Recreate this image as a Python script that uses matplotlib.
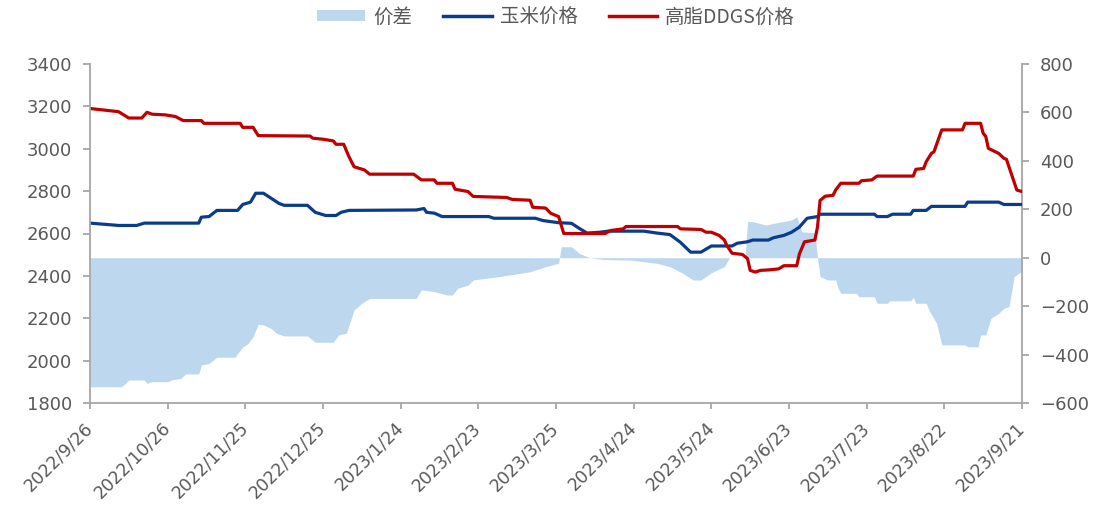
import matplotlib
matplotlib.use("Agg")
import matplotlib.pyplot as plt
import matplotlib.patches as mpatches
import matplotlib.lines as mlines
import pandas as pd

plt.rcParams['font.family'] = ['DejaVu Sans', 'Noto Sans CJK SC']

# ---------------- data ----------------
ddgs_dates = ["2022-09-26", "2022-10-07", "2022-10-11", "2022-10-16", "2022-10-18", "2022-10-20",
              "2022-10-25", "2022-10-29", "2022-11-01", "2022-11-08", "2022-11-09", "2022-11-23",
              "2022-11-24", "2022-11-28", "2022-11-30", "2022-12-20", "2022-12-21", "2022-12-25",
              "2022-12-29", "2022-12-30", "2023-01-02", "2023-01-04", "2023-01-06", "2023-01-10",
              "2023-01-12", "2023-01-29", "2023-02-01", "2023-02-06", "2023-02-07", "2023-02-13",
              "2023-02-14", "2023-02-19", "2023-02-21", "2023-03-06", "2023-03-08", "2023-03-15",
              "2023-03-16", "2023-03-21", "2023-03-23", "2023-03-26", "2023-03-28", "2023-04-13",
              "2023-04-15", "2023-04-20", "2023-04-21", "2023-05-11", "2023-05-12", "2023-05-20",
              "2023-05-22", "2023-05-24", "2023-05-27", "2023-05-29", "2023-05-30", "2023-06-01",
              "2023-06-05", "2023-06-07", "2023-06-08", "2023-06-10", "2023-06-12", "2023-06-15",
              "2023-06-19", "2023-06-21", "2023-06-26", "2023-06-27", "2023-06-29", "2023-07-03",
              "2023-07-04", "2023-07-05", "2023-07-07", "2023-07-10", "2023-07-11", "2023-07-13",
              "2023-07-20", "2023-07-21", "2023-07-25", "2023-07-27", "2023-08-10", "2023-08-11",
              "2023-08-14", "2023-08-15", "2023-08-17", "2023-08-18", "2023-08-21", "2023-08-29",
              "2023-08-30", "2023-09-05", "2023-09-06", "2023-09-07", "2023-09-08", "2023-09-12",
              "2023-09-14", "2023-09-15", "2023-09-19", "2023-09-21"]
ddgs_price = [3190, 3175, 3145, 3145, 3172, 3163,
              3160, 3152, 3133, 3133, 3120, 3120,
              3101, 3101, 3062, 3060, 3050, 3045,
              3037, 3021, 3021, 2963, 2915, 2900,
              2880, 2880, 2853, 2853, 2837, 2837,
              2809, 2798, 2775, 2770, 2761, 2757,
              2724, 2720, 2695, 2680, 2600, 2600,
              2614, 2622, 2633, 2633, 2622, 2619,
              2606, 2606, 2591, 2570, 2543, 2507,
              2501, 2481, 2426, 2418, 2426, 2428,
              2433, 2448, 2448, 2503, 2561, 2569,
              2630, 2756, 2776, 2780, 2805, 2837,
              2837, 2849, 2853, 2871, 2871, 2903,
              2907, 2939, 2978, 2986, 3089, 3089,
              3120, 3120, 3073, 3058, 3002, 2978,
              2955, 2950, 2805, 2798]

corn_dates = ["2022-09-26", "2022-10-07", "2022-10-14", "2022-10-17", "2022-11-07", "2022-11-08",
              "2022-11-11", "2022-11-14", "2022-11-22", "2022-11-24", "2022-11-27", "2022-11-29",
              "2022-12-02", "2022-12-05", "2022-12-08", "2022-12-10", "2022-12-19", "2022-12-22",
              "2022-12-26", "2022-12-30", "2023-01-01", "2023-01-04", "2023-01-30", "2023-02-02",
              "2023-02-03", "2023-02-06", "2023-02-09", "2023-02-27", "2023-03-01", "2023-03-17",
              "2023-03-20", "2023-03-26", "2023-03-31", "2023-04-03", "2023-04-06", "2023-04-11",
              "2023-04-14", "2023-04-28", "2023-05-03", "2023-05-08", "2023-05-12", "2023-05-16",
              "2023-05-20", "2023-05-24", "2023-06-01", "2023-06-03", "2023-06-07", "2023-06-09",
              "2023-06-15", "2023-06-17", "2023-06-21", "2023-06-24", "2023-06-27", "2023-06-30",
              "2023-07-04", "2023-07-05", "2023-07-26", "2023-07-27", "2023-07-31", "2023-08-02",
              "2023-08-09", "2023-08-10", "2023-08-15", "2023-08-17", "2023-08-30", "2023-08-31",
              "2023-09-12", "2023-09-14", "2023-09-21"]
corn_price = [2649, 2638, 2638, 2649, 2649, 2677,
              2680, 2709, 2709, 2737, 2748, 2790,
              2790, 2766, 2742, 2733, 2733, 2700,
              2685, 2685, 2700, 2709, 2711, 2718,
              2700, 2696, 2680, 2680, 2672, 2672,
              2661, 2651, 2648, 2624, 2602, 2606,
              2611, 2611, 2602, 2595, 2559, 2512,
              2512, 2541, 2541, 2554, 2561, 2569,
              2569, 2580, 2591, 2606, 2630, 2672,
              2680, 2691, 2691, 2680, 2680, 2691,
              2691, 2709, 2709, 2728, 2728, 2748,
              2748, 2737, 2737]

spread_dates = ["2022-09-26", "2022-10-08", "2022-10-09", "2022-10-11", "2022-10-17", "2022-10-18",
                "2022-10-20", "2022-10-26", "2022-10-28", "2022-10-31", "2022-11-02", "2022-11-07",
                "2022-11-08", "2022-11-11", "2022-11-14", "2022-11-21", "2022-11-24", "2022-11-26",
                "2022-11-28", "2022-11-30", "2022-12-02", "2022-12-05", "2022-12-07", "2022-12-10",
                "2022-12-19", "2022-12-22", "2022-12-29", "2022-12-31", "2023-01-03", "2023-01-06",
                "2023-01-09", "2023-01-12", "2023-01-30", "2023-02-01", "2023-02-06", "2023-02-11",
                "2023-02-13", "2023-02-15", "2023-02-19", "2023-02-21", "2023-03-03", "2023-03-15",
                "2023-03-21", "2023-03-26", "2023-03-27", "2023-03-31", "2023-04-03", "2023-04-07",
                "2023-04-12", "2023-04-23", "2023-05-03", "2023-05-08", "2023-05-13", "2023-05-17",
                "2023-05-20", "2023-05-24", "2023-05-29", "2023-05-31", "2023-06-06", "2023-06-07",
                "2023-06-09", "2023-06-14", "2023-06-19", "2023-06-24", "2023-06-26", "2023-06-28",
                "2023-07-03", "2023-07-04", "2023-07-05", "2023-07-08", "2023-07-11", "2023-07-12",
                "2023-07-13", "2023-07-19", "2023-07-20", "2023-07-26", "2023-07-27", "2023-07-31",
                "2023-08-01", "2023-08-09", "2023-08-10", "2023-08-11", "2023-08-15", "2023-08-16",
                "2023-08-19", "2023-08-21", "2023-08-30", "2023-08-31", "2023-09-04", "2023-09-05",
                "2023-09-07", "2023-09-09", "2023-09-12", "2023-09-14", "2023-09-16", "2023-09-18",
                "2023-09-20", "2023-09-21"]
spread = [-533, -533, -526, -505, -505, -519,
          -512, -512, -503, -499, -480, -480,
          -443, -437, -411, -411, -368, -355,
          -326, -274, -278, -292, -312, -323,
          -323, -349, -349, -319, -312, -216,
          -188, -168, -168, -133, -140, -154,
          -154, -126, -113, -92, -78, -58,
          -37, -23, 45, 45, 18, 0,
          -7, -10, -23, -37, -64, -92,
          -92, -62, -37, 0, 0, 149,
          149, 135, 146, 156, 169, 107,
          103, 0, -78, -92, -92, -126,
          -147, -147, -161, -161, -188, -188,
          -178, -178, -164, -188, -188, -216,
          -271, -360, -360, -368, -368, -319,
          -319, -250, -230, -209, -202, -78,
          -62, -58]

tick_labels = ["2022/9/26", "2022/10/26", "2022/11/25", "2022/12/25", "2023/1/24", "2023/2/23",
               "2023/3/25", "2023/4/24", "2023/5/24", "2023/6/23", "2023/7/23", "2023/8/22",
               "2023/9/21"]
legend_labels = ["价差", "玉米价格", "高脂DDGS价格"]

# ---------------- styles ----------------
AREA_C = "#BDD7EE"
CORN_C = "#0B3C8C"
DDGS_C = "#C00000"
AXIS_C = "#A6A6A6"
TEXT_C = "#595959"

fig = plt.figure(figsize=(10.96, 5.13), dpi=100)
ax = fig.add_axes([90 / 1096, 1 - 403 / 513, (1022 - 90) / 1096, (403 - 64) / 513])
ax2 = ax.twinx()

# area on right axis, behind lines
ax2.fill_between(pd.to_datetime(spread_dates), spread, 0, color=AREA_C, linewidth=0)
ax.plot(pd.to_datetime(corn_dates), corn_price, color=CORN_C, linewidth=2.3, solid_joinstyle='round')
ax.plot(pd.to_datetime(ddgs_dates), ddgs_price, color=DDGS_C, linewidth=2.3, solid_joinstyle='round')
ax.set_zorder(ax2.get_zorder() + 1)
ax.patch.set_visible(False)

tick_pos = pd.to_datetime([s.replace("/", "-") for s in tick_labels])
ax.set_xlim(tick_pos[0], tick_pos[-1])
ax.set_ylim(1800, 3400)
ax.set_yticks(range(1800, 3401, 200))
ax2.set_ylim(-600, 800)
ax2.set_yticks(range(-600, 801, 200))
ax2.set_yticklabels([str(v).replace("-", "\u2212") for v in range(-600, 801, 200)])

ax.set_xticks(tick_pos)
ax.set_xticklabels(tick_labels, rotation=45, ha='right', va='center', rotation_mode='anchor')

for a in (ax, ax2):
    for s in a.spines.values():
        s.set_color(AXIS_C)
        s.set_linewidth(1.3)
    a.spines['top'].set_visible(False)
ax.spines['right'].set_visible(False)
ax2.spines['left'].set_visible(False)
ax2.spines['bottom'].set_visible(False)

ax.tick_params(axis='y', direction='out', length=5, width=1.3, color=AXIS_C,
               labelcolor=TEXT_C, labelsize=13, pad=8)
ax.tick_params(axis='x', direction='out', length=4, width=1.3, color=AXIS_C,
               labelcolor=TEXT_C, labelsize=12.5, pad=12)
ax2.tick_params(axis='y', direction='out', length=5, width=1.3, color=AXIS_C,
                labelcolor=TEXT_C, labelsize=13, pad=8)

handles = [mpatches.Patch(facecolor=AREA_C, edgecolor='none'),
           mlines.Line2D([], [], color=CORN_C, linewidth=2.5),
           mlines.Line2D([], [], color=DDGS_C, linewidth=2.5)]
leg = fig.legend(handles, legend_labels, loc='center', bbox_to_anchor=(556 / 1096, 1 - 17 / 513),
                 ncol=3, frameon=False, handlelength=2.5, handleheight=0.45,
                 handletextpad=0.4, columnspacing=1.6,
                 prop={'family': ['Noto Sans CJK SC', 'DejaVu Sans'], 'size': 14})
for t in leg.get_texts():
    t.set_color(TEXT_C)

fig.savefig("out.png", dpi=100)
